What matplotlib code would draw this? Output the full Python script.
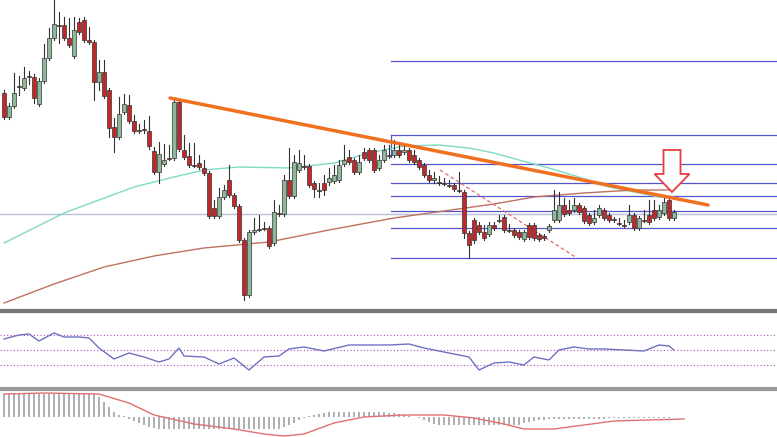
import numpy as np
import matplotlib.pyplot as plt
from matplotlib.patches import FancyArrow

# candles: open, close, high, low (chart pixel-row units, axis inverted)
candles = [
    (93, 117, 90, 119), (117, 106, 103, 119), (106, 93, 73, 108), (86, 86, 76, 95),
    (88, 78, 67, 90), (76, 77, 71, 84), (77, 98, 74, 103), (104, 81, 78, 106),
    (81, 58, 44, 83), (58, 38, 28, 60), (38, 24, 0, 40), (25, 25, 12, 43),
    (25, 38, 17, 40), (38, 45, 18, 47), (56, 30, 17, 58), (22, 32, 18, 34),
    (20, 40, 17, 42), (40, 42, 27, 44), (42, 82, 40, 100), (82, 72, 60, 90),
    (72, 96, 60, 98), (90, 128, 88, 137), (127, 137, 118, 152), (137, 114, 97, 139),
    (112, 104, 94, 114), (105, 121, 95, 123), (121, 131, 115, 133), (130, 130, 124, 133),
    (129, 130, 120, 133), (131, 146, 116, 149), (151, 172, 147, 174), (172, 154, 142, 183),
    (164, 160, 144, 166), (158, 158, 145, 160), (158, 102, 100, 160), (102, 149, 100, 151),
    (150, 157, 135, 159), (156, 165, 143, 167), (165, 165, 143, 167), (163, 167, 155, 169),
    (168, 173, 160, 175), (173, 216, 171, 218), (208, 216, 200, 218), (216, 197, 188, 218),
    (197, 190, 185, 199), (180, 195, 165, 197), (195, 206, 193, 208), (206, 240, 204, 242),
    (240, 295, 238, 300), (295, 232, 230, 297), (232, 230, 218, 234), (229, 229, 215, 231),
    (228, 228, 222, 230), (228, 246, 226, 248), (243, 212, 200, 245), (213, 213, 205, 216),
    (214, 180, 175, 216), (180, 196, 148, 198), (196, 162, 155, 198), (170, 163, 150, 172),
    (166, 167, 155, 169), (166, 185, 164, 187), (183, 189, 181, 197), (190, 190, 183, 197),
    (183, 190, 175, 195), (182, 178, 168, 185), (181, 175, 165, 183), (180, 165, 160, 182),
    (164, 160, 145, 166), (157, 162, 150, 164), (160, 172, 158, 174), (172, 162, 155, 174),
    (152, 158, 148, 160), (150, 160, 148, 162), (150, 170, 148, 172), (168, 160, 155, 170),
    (160, 150, 145, 162), (155, 155, 145, 158), (155, 150, 140, 157), (150, 155, 145, 157),
    (152, 150, 146, 154), (150, 160, 148, 162), (155, 162, 150, 164), (160, 167, 158, 169),
    (165, 175, 163, 177), (175, 180, 170, 182), (180, 178, 172, 183), (182, 182, 176, 185),
    (183, 183, 178, 185), (185, 185, 180, 187), (185, 189, 183, 191), (190, 190, 172, 192),
    (192, 233, 190, 238), (233, 245, 231, 258), (220, 240, 218, 243), (225, 232, 222, 234),
    (232, 238, 225, 240), (234, 225, 222, 236), (225, 228, 222, 230), (220, 220, 215, 222),
    (217, 230, 215, 232), (230, 230, 224, 232), (230, 235, 228, 237), (232, 237, 230, 239),
    (239, 232, 230, 241), (225, 237, 223, 239), (225, 238, 223, 240), (235, 239, 233, 241),
    (236, 238, 234, 240), (230, 226, 224, 232), (220, 210, 190, 222), (220, 205, 192, 222),
    (205, 214, 198, 216), (210, 213, 200, 215), (210, 205, 198, 212), (205, 212, 203, 214),
    (208, 221, 206, 223), (215, 223, 213, 225), (222, 218, 210, 224), (215, 208, 205, 217),
    (210, 218, 208, 220), (215, 220, 213, 222), (219, 220, 217, 222), (223, 223, 218, 225),
    (225, 225, 220, 227), (222, 215, 205, 224), (215, 228, 213, 230), (228, 218, 216, 230),
    (220, 220, 210, 222), (215, 222, 200, 224), (210, 218, 200, 220), (217, 210, 205, 219),
    (213, 202, 197, 215), (200, 218, 197, 220), (218, 212, 210, 220),
]

# moving averages (bar index, level)
ma_fast_x = [0, 6, 12, 19, 26, 34, 40, 47, 57, 66, 73, 80, 87, 93, 98, 103, 109, 115, 121, 127, 131, 134]
ma_fast_y = [243, 228, 213, 200, 187, 177, 170, 167, 168, 163, 153, 146, 145, 148, 153, 160, 168, 177, 187, 193, 197, 198]
ma_slow_x = [0, 10, 20, 30, 40, 53, 65, 78, 88, 98, 106, 116, 126, 134]
ma_slow_y = [303, 284, 267, 256, 248, 242, 230, 218, 211, 204, 197, 193, 190, 190]

fib_levels = [135, 164, 183, 196, 211, 228, 258]

# RSI (bar index, pixel level)
rsi_x = [0, 3, 5, 7, 10, 12, 15, 17, 19, 22, 25, 28, 31, 33, 35, 36, 40, 43, 46, 49, 52, 55,
         57, 60, 64, 69, 74, 77, 81, 84, 88, 93, 95, 98, 101, 104, 106, 109, 111, 114, 117,
         120, 124, 128, 131, 133, 134]
rsi_y = [339, 335, 334, 341, 333, 337, 337, 338, 348, 359, 353, 357, 362, 359, 348, 356, 357,
         364, 358, 370, 357, 356, 349, 347, 351, 345, 345, 345, 344, 348, 352, 357, 370, 363,
         362, 365, 357, 360, 350, 347, 349, 349, 350, 351, 345, 346, 350]

# MACD histogram and signal
macd_hist = [23, 23, 23, 23, 23, 23, 23, 23, 23, 23, 23, 23, 23, 23, 23, 23, 23, 23, 23, 20,
             15, 10, 5, 2, 1, -2, -4, -6, -8, -10, -11, -12, -12, -12, -12, -12, -12, -12,
             -12, -12, -12, -12, -12, -12, -12, -12, -12, -12, -12, -12, -12, -12, -12, -12,
             -12, -12, -10, -8, -6, -3, -1, 1, 2, 3, 4, 5, 5, 5, 5, 5, 5, 5, 5, 5, 5, 5, 5, 4,
             4, 3, 2, 1, 0, -1, -3, -5, -7, -8, -8, -8, -8, -8, -8, -8, -8, -8, -8, -8, -8, -8,
             -8, -8, -8, -8, -6, -5, -4, -3, -3, -2, -2, -2, -2, -2, -2, -2, -2, -2, -2, -2, -2,
             -1, -1, -1, -1, -1, -1, -1, -1, -1, -1, -1, -1, -1]
sig_x = [0, 8, 19, 25, 30, 38, 46, 52, 56, 60, 66, 72, 80, 88, 94, 100, 104, 110, 116, 122, 136]
sig_y = [23, 24, 23, 14, 2, -7, -12, -17, -19, -17, -6, 0, 2, 2, -1, -7, -12, -12, -8, -4, -2]

W, H = 777, 437
fig = plt.figure(figsize=(W / 100, H / 100), dpi=100)
xlim = (-0.8, W / 5 - 0.8)

ax = fig.add_axes([0, 1 - 309 / H, 1, 309 / H])
ax.set_xlim(*xlim)
ax.set_ylim(309, 0)
ax.axis("off")

ax.axhline(214, color="#b8c0d8", lw=1)
for y in fib_levels:
    ax.plot([77.4, 160], [y, y], color="#5555cc", lw=0.9)
ax.plot([77.4, 160], [61, 61], color="#5555cc", lw=0.9)
ax.plot([77.4, 77.4], [135, 157], color="#5555cc", lw=0.9)
ax.plot(ma_fast_x, ma_fast_y, color="#7fdcc0", lw=1)
ax.plot(ma_slow_x, ma_slow_y, color="#c07060", lw=1)
ax.plot([87.2, 114.6], [170, 258], color="#e07070", lw=0.9, ls=(0, (3, 2)))

for i, (o, c, h, l) in enumerate(candles):
    up = c < o
    col = "#8fb89a" if up else "#c0282a"
    ax.plot([i, i], [h, l], color="#333333", lw=0.8, zorder=3)
    top, bot = min(o, c), max(o, c)
    ax.bar(i, max(bot - top, 1), bottom=top, width=0.8, color=col,
           edgecolor="#333333", lw=0.5, zorder=4)

ax.plot([33.2, 140.8], [98, 205], color="#f07020", lw=2.5, zorder=5, solid_capstyle="round")
ax.add_patch(FancyArrow(133.6, 150, 0, 42, width=3.4, head_width=7, head_length=18,
                        length_includes_head=True, facecolor="white", edgecolor="#e04040",
                        lw=1.3, zorder=6))

fig.add_artist(plt.Line2D([0, 1], [1 - 311 / H] * 2, color="#777777", lw=3))
fig.add_artist(plt.Line2D([0, 1], [1 - 389 / H] * 2, color="#999999", lw=3))

ax2 = fig.add_axes([0, 1 - 387 / H, 1, 74 / H])
ax2.set_xlim(*xlim)
ax2.set_ylim(387, 313)
ax2.axis("off")
for y in [335, 350, 365]:
    ax2.axhline(y, color="#b050c0", lw=0.8, ls=(0, (1, 2)))
ax2.plot(rsi_x, rsi_y, color="#7070c0", lw=1)

ax3 = fig.add_axes([0, 0, 1, 47 / H])
ax3.set_xlim(*xlim)
ax3.set_ylim(-20, 27)
ax3.axis("off")
ax3.bar(range(len(macd_hist)), macd_hist, width=0.35, color="#b0b0b0")
ax3.plot(sig_x, sig_y, color="#e07070", lw=1)

fig.savefig("out.png", dpi=100)
